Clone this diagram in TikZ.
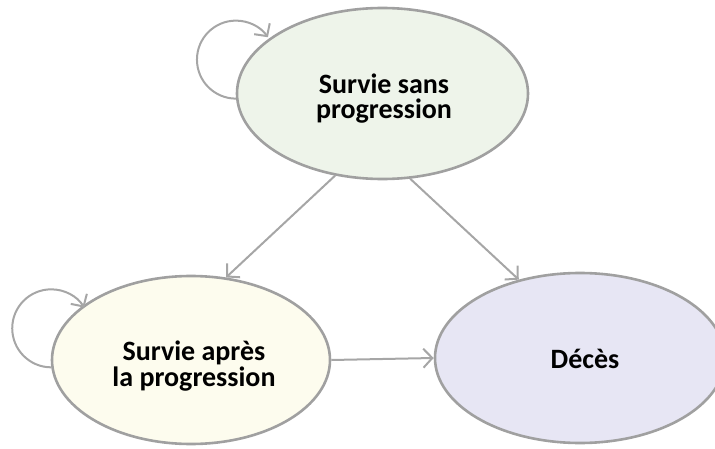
\documentclass[tikz,border=0pt]{standalone}
\usepackage{fontspec}
\setmainfont{Carlito}
\usetikzlibrary{arrows.meta,shapes.geometric}
\definecolor{bordergray}{HTML}{A0A0A0}
\definecolor{arrowgray}{HTML}{A6A6A6}
\definecolor{fillgreen}{HTML}{EEF4EA}
\definecolor{fillcream}{HTML}{FDFCEE}
\definecolor{filllav}{HTML}{E7E6F4}
\tikzset{
  state/.style={ellipse, draw=bordergray, line width=2.6pt, inner sep=0pt},
  statetext/.style={align=center, inner sep=0pt, font=\fontsize{28}{25.5}\selectfont\bfseries, text=black},
  arr/.style={draw=arrowgray, line width=2pt, -{Straight Barb[length=9pt,width=19pt,line width=2pt]}}
}
\begin{document}
\begin{tikzpicture}[x=1pt,y=1pt]
\useasboundingbox (0,0) rectangle (715,448);
\begin{scope}
\clip (0,0) rectangle (715,448);
\node[state, fill=fillgreen, minimum width=291pt, minimum height=171pt] (s) at (382.5,354.5) {};
\node[state, fill=fillcream, minimum width=278pt, minimum height=168pt] (p) at (191,88) {};
\node[state, fill=filllav, minimum width=290pt, minimum height=170pt] (d) at (580,90) {};
\end{scope}
\node[statetext] (st) at ([xshift=1.5pt,yshift=-5pt]s.center) {Survie sans\\progression};
\node[statetext] (pt) at ([xshift=3pt,yshift=-6pt]p.center) {Survie après\\la progression};
\node[statetext] (dt) at ([xshift=5pt,yshift=-1pt]d.center) {Décès};
\draw[arr] (s.240) -- (p.67);
\draw[arr] (s.288) -- (d.128);
\draw[arr] (p.east) -- (d.west);
\draw[arr] (s.182) arc[start angle=270, end angle=35, radius=39];
\draw[arr] (p.183) arc[start angle=270, end angle=32, radius=39];
\end{tikzpicture}
\end{document}
